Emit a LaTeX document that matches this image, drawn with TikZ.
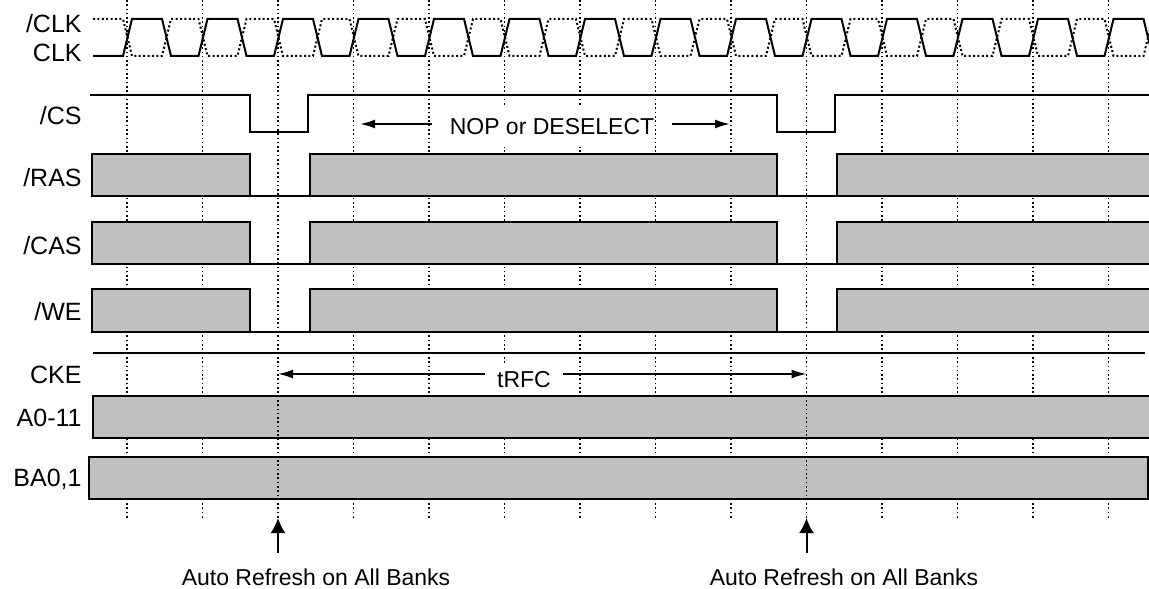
\documentclass[tikz,border=0pt]{standalone}
\usepackage{fontspec}
\setmainfont{Liberation Sans}
\usepackage{tikz}
\usetikzlibrary{arrows.meta}
\definecolor{BusGray}{HTML}{C0C0C0}
\definecolor{TraceInk}{HTML}{000000}

\begin{document}
\begin{tikzpicture}[x=0.5pt,y=-0.5pt,>=Latex,
  sig/.style={TraceInk,line width=1pt,line join=miter},
  gridline/.style={TraceInk,line width=0.9pt,dash pattern=on 0.8pt off 1.35pt},
  clkbar/.style={TraceInk,line width=1pt,dash pattern=on 1pt off 1.2pt},
  busbox/.style={sig,fill=BusGray},
  signame/.style={anchor=base east,inner sep=0pt,font=\fontsize{12.5}{15}\selectfont},
  note/.style={anchor=base,inner sep=0pt,outer xsep=6pt,fill=white,
    font=\fontsize{11.5}{14}\selectfont},
  harr/.style={sig,-{Latex[length=7.5pt,width=4.5pt]}},
  varr/.style={sig,-{Latex[length=7.5pt,width=7.5pt]}}]
  \clip (0,0) rectangle (1149,588);
  \pgfmathsetmacro{\clkzero}{127}
  \pgfmathsetmacro{\clkper}{75.5}
  % clock edge grid
  \foreach \k in {0,...,13}
    \draw[gridline] ({\clkzero+\clkper*\k},0) -- ++(0,518);
  % CLK and /CLK
  \draw[sig] (93,56) foreach \k in {0,...,13}{
      -- ({\clkzero+\clkper*\k-4},56) -- ({\clkzero+\clkper*\k+5},19)
      -- ({\clkzero+\clkper*\k+35},19) -- ({\clkzero+\clkper*\k+44},56)}
    -- (1160,56);
  \draw[clkbar] (93,19) foreach \k in {0,...,13}{
      -- ({\clkzero+\clkper*\k-4},19) -- ({\clkzero+\clkper*\k+5},56)
      -- ({\clkzero+\clkper*\k+35},56) -- ({\clkzero+\clkper*\k+44},19)}
    -- (1160,19);
  % /CS
  \draw[sig] (90,95) -- (250,95) -- (250,132) -- (308,132) -- (308,95)
    -- (777,95) -- (777,132) -- (835,132) -- (835,95) -- (1160,95);
  % /RAS, /CAS, /WE
  \foreach \ytop/\ybot in {154/196,222/264,289/332}{
    \draw[busbox] (92,\ytop) rectangle (250,\ybot);
    \draw[busbox] (310,\ytop) rectangle (777,\ybot);
    \draw[busbox] (837,\ytop) rectangle (1160,\ybot);
    \draw[sig] (250,\ybot) -- (310,\ybot) (777,\ybot) -- (837,\ybot);
  }
  % CKE, address, bank
  \draw[sig] (93,353) -- (1145,353);
  \draw[busbox] (93,396) rectangle (1160,438);
  \draw[busbox] (89,457) rectangle (1148,499);
  \foreach \k in {2,9}
    \draw[gridline] ({\clkzero+\clkper*\k},0) -- ++(0,518);
  % signal names
  \node[signame] (nclkb) at (82,33) {/CLK};
  \node[signame] (nclk) at (82,62) {CLK};
  \node[signame] (ncs) at (82,125) {/CS};
  \node[signame] (nras) at (82,186) {/RAS};
  \node[signame] (ncas) at (82,254) {/CAS};
  \node[signame] (nwe) at (82,320) {/WE};
  \node[signame] (ncke) at (82,383) {CKE};
  \node[signame] (naddr) at (82,426) {A0-11};
  \node[signame] (nbank) at (82,486) {BA0,1};
  % NOP span
  \node[note,inner ysep=6pt,outer xsep=9pt] (nop) at (552,135) {NOP or DESELECT};
  \coordinate (nopl) at (360,124);
  \coordinate (nopr) at (730,124);
  \draw[harr] (nop.west |- nopl) -- (nopl);
  \draw[harr] (nop.east |- nopr) -- (nopr);
  % tRFC span
  \node[note,inner ysep=3pt] (trfc) at (524,387) {tRFC};
  \coordinate (trfcl) at ({\clkzero+\clkper*2},374);
  \coordinate (trfcr) at ({\clkzero+\clkper*9},374);
  \draw[harr] (trfc.west |- trfcl) -- (trfcl);
  \draw[harr] (trfc.east |- trfcr) -- (trfcr);
  % refresh commands
  \node[note,outer ysep=7.5pt] (ref1) at (316,585) {Auto Refresh on All Banks};
  \node[note,outer ysep=7.5pt] (ref2) at (844,585) {Auto Refresh on All Banks};
  \coordinate (rf1) at ({\clkzero+\clkper*2},518);
  \coordinate (rf2) at ({\clkzero+\clkper*9},518);
  \draw[varr] (ref1.north -| rf1) -- (rf1);
  \draw[varr] (ref2.north -| rf2) -- (rf2);
\end{tikzpicture}
\end{document}
